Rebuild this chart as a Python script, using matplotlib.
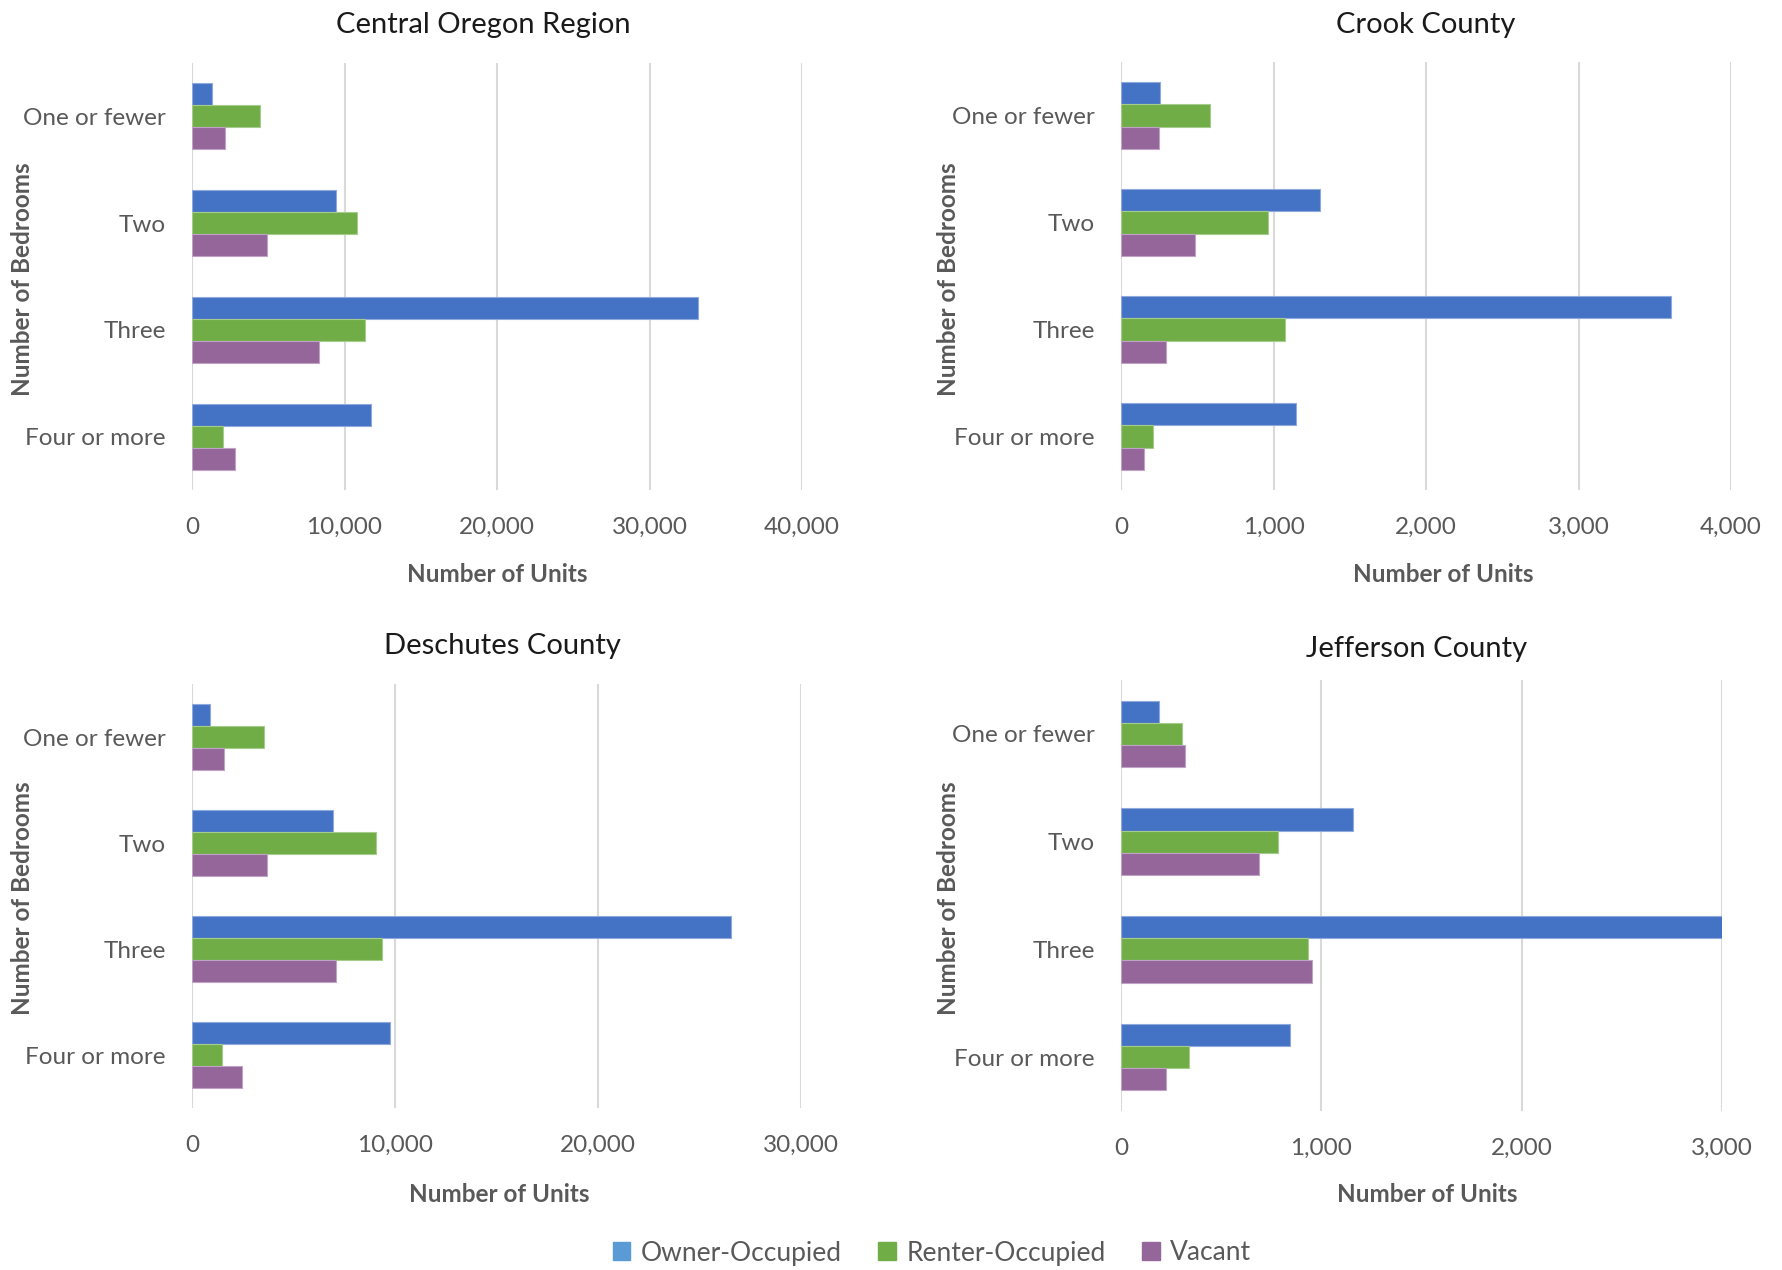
import numpy as np
import matplotlib.pyplot as plt
from matplotlib.patches import Patch

plt.rcParams['font.family'] = ['Lato', 'DejaVu Sans']

bedrooms = ["One or fewer", "Two", "Three", "Four or more"]
series = ["Owner-Occupied", "Renter-Occupied", "Vacant"]

# values per region: owner, renter, vacant (order of bedrooms)
central_owner = [1330, 9470, 33200, 11760]
central_renter = [4440, 10820, 11370, 2020]
central_vacant = [2180, 4910, 8340, 2840]

crook_owner = [253, 1303, 3607, 1149]
crook_renter = [584, 963, 1076, 211]
crook_vacant = [247, 483, 295, 152]

deschutes_owner = [890, 6970, 26560, 9730]
deschutes_renter = [3530, 9050, 9340, 1470]
deschutes_vacant = [1600, 3710, 7080, 2470]

jefferson_owner = [188, 1160, 3013, 845]
jefferson_renter = [302, 785, 933, 338]
jefferson_vacant = [321, 691, 952, 223]

panels = [
    ("Central Oregon Region", [central_owner, central_renter, central_vacant], 40000, 10000),
    ("Crook County", [crook_owner, crook_renter, crook_vacant], 4000, 1000),
    ("Deschutes County", [deschutes_owner, deschutes_renter, deschutes_vacant], 30000, 10000),
    ("Jefferson County", [jefferson_owner, jefferson_renter, jefferson_vacant], 3000, 1000),
]

bar_colors = ["#4472C4", "#70AD47", "#94669A"]
edge_colors = ["#8FA9DC", "#A5CC8C", "#BFA2C4"]
legend_colors = ["#5B9BD5", "#70AD47", "#94669A"]
gray = "#595959"

W, H = 1782, 1270
fig = plt.figure(figsize=(W / 100, H / 100), dpi=100)

# axes boxes in pixels: left, right, top, bottom
boxes = [(192, 802, 63, 490), (1121, 1731, 62, 490),
         (192, 801, 684, 1108), (1121, 1722, 680, 1111)]
title_pos = [(483, 25), (1426, 25), (502, 646), (1417, 649)]
ylab_pos = [(23, 279), (949, 279), (23, 898), (949, 898)]
xlab_pos = [(497, 575), (1443, 575), (499, 1195), (1427, 1195)]

h = 0.206
y = np.arange(len(bedrooms))

for (title, vals, xmax, step), box, tp, yp, xp in zip(panels, boxes, title_pos, ylab_pos, xlab_pos):
    l, r, t, b = box
    ax = fig.add_axes([l / W, 1 - b / H, (r - l) / W, (b - t) / H])
    for k, v in enumerate(vals):
        ax.barh(y + (k - 1) * h, v, height=h, color=bar_colors[k],
                edgecolor=edge_colors[k], linewidth=0.8, zorder=3)
    ax.set_xlim(0, xmax)
    ax.set_ylim(3.5, -0.5)
    ax.set_xticks(np.arange(0, xmax + 1, step))
    ax.set_xticklabels([f"{v:,}" for v in np.arange(0, xmax + 1, step)])
    ax.set_yticks(y)
    ax.set_yticklabels(bedrooms)
    ax.tick_params(axis='both', length=0, labelsize=17.5, labelcolor=gray)
    ax.tick_params(axis='x', pad=19.5)
    ax.tick_params(axis='y', pad=19)
    ax.grid(axis='x', color="#D9D9D9", linewidth=1.5, zorder=0)
    for s in ax.spines.values():
        s.set_visible(False)

    fig.text(tp[0] / W, 1 - tp[1] / H, title, ha='center', va='center',
             fontsize=21, color="#1a1a1a")
    fig.text(yp[0] / W, 1 - yp[1] / H, "Number of Bedrooms", rotation=90,
             ha='center', va='center', fontsize=17.5, fontweight='bold', color=gray)
    fig.text(xp[0] / W, 1 - xp[1] / H, "Number of Units", ha='center', va='center',
             fontsize=17.5, fontweight='bold', color=gray)

handles = [Patch(color=c, label=s) for c, s in zip(legend_colors, series)]
fig.legend(handles=handles, loc='center', bbox_to_anchor=(932 / W, 1 - 1253 / H),
           ncol=3, frameon=False, fontsize=19, labelcolor=gray,
           handlelength=0.65, handleheight=0.65, handletextpad=0.4, columnspacing=1.4)

fig.savefig("out.png", dpi=100)
